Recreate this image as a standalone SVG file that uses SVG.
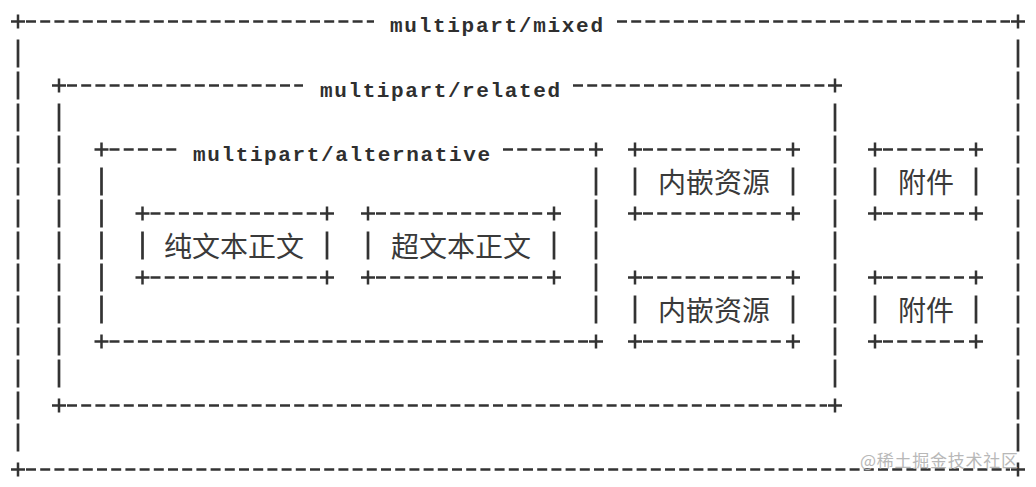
<svg xmlns="http://www.w3.org/2000/svg" xmlns:xlink="http://www.w3.org/1999/xlink" width="1036" height="487" viewBox="0 0 1036 487">
<style>
.h{stroke:#333;stroke-width:2.5;stroke-dasharray:10 4.2;fill:none}
.v{stroke:#333;stroke-width:2.7;stroke-dasharray:28 4;fill:none}
.p{stroke:#333;stroke-width:2.5;fill:none}
.mono{font-family:"Liberation Mono",monospace;font-size:21px;font-weight:bold;fill:#2f2f2f}
.cjk{font-family:"Noto Sans CJK SC",sans-serif;font-size:28px;fill:#3a3a3a;text-anchor:middle}
.wm{font-family:"Noto Sans CJK SC",sans-serif;font-size:17px;fill:#b8b8b8}
</style>
<defs>
<path id="plus" d="M-7 0H7M0 -7V7"/>
</defs>
<rect width="1036" height="487" fill="#fff"/>

<g id="mixed">
<path class="h" d="M26 21.5H374M617 21.5H1010M26 469.5H1010"/>
<path class="v" d="M18 39.5V451.5M1018 39.5V451.5"/>
<use xlink:href="#plus" class="p" x="18" y="21.5"/>
<use xlink:href="#plus" class="p" x="1018" y="21.5"/>
<use xlink:href="#plus" class="p" x="18" y="469.5"/>
<use xlink:href="#plus" class="p" x="1018" y="469.5"/>
<text class="mono" x="390" y="32" textLength="213" lengthAdjust="spacing">multipart/mixed</text>
</g>

<g id="related">
<path class="h" d="M67 85.5H303M573 85.5H827M67 405.5H827"/>
<path class="v" d="M59 103.5V387.5M835 103.5V387.5"/>
<use xlink:href="#plus" class="p" x="59" y="85.5"/>
<use xlink:href="#plus" class="p" x="835" y="85.5"/>
<use xlink:href="#plus" class="p" x="59" y="405.5"/>
<use xlink:href="#plus" class="p" x="835" y="405.5"/>
<text class="mono" x="320" y="96.5" textLength="240" lengthAdjust="spacing">multipart/related</text>
</g>

<g id="alternative">
<path class="h" d="M109.5 149.5H177M503 149.5H588M109.5 341.5H588"/>
<path class="v" d="M101.5 167.5V323.5M596 167.5V323.5"/>
<use xlink:href="#plus" class="p" x="101.5" y="149.5"/>
<use xlink:href="#plus" class="p" x="596" y="149.5"/>
<use xlink:href="#plus" class="p" x="101.5" y="341.5"/>
<use xlink:href="#plus" class="p" x="596" y="341.5"/>
<text class="mono" x="193" y="160.5" textLength="297" lengthAdjust="spacing">multipart/alternative</text>
</g>

<g id="plain-text">
<path class="h" d="M150.5 213.5H319M150.5 277.5H319"/>
<path class="v" d="M142.5 231.5V259.5M327 231.5V259.5"/>
<use xlink:href="#plus" class="p" x="142.5" y="213.5"/>
<use xlink:href="#plus" class="p" x="327" y="213.5"/>
<use xlink:href="#plus" class="p" x="142.5" y="277.5"/>
<use xlink:href="#plus" class="p" x="327" y="277.5"/>
<text class="cjk" x="234" y="256.5">纯文本正文</text>
</g>

<g id="html-text">
<path class="h" d="M376 213.5H546M376 277.5H546"/>
<path class="v" d="M368 231.5V259.5M554 231.5V259.5"/>
<use xlink:href="#plus" class="p" x="368" y="213.5"/>
<use xlink:href="#plus" class="p" x="554" y="213.5"/>
<use xlink:href="#plus" class="p" x="368" y="277.5"/>
<use xlink:href="#plus" class="p" x="554" y="277.5"/>
<text class="cjk" x="461" y="256.5">超文本正文</text>
</g>

<g id="inline-1">
<path class="h" d="M643 149.5H785M643 213.5H785"/>
<path class="v" d="M635 167.5V195.5M793 167.5V195.5"/>
<use xlink:href="#plus" class="p" x="635" y="149.5"/>
<use xlink:href="#plus" class="p" x="793" y="149.5"/>
<use xlink:href="#plus" class="p" x="635" y="213.5"/>
<use xlink:href="#plus" class="p" x="793" y="213.5"/>
<text class="cjk" x="714" y="192.5">内嵌资源</text>
</g>

<g id="inline-2">
<path class="h" d="M643 277.5H785M643 341.5H785"/>
<path class="v" d="M635 295.5V323.5M793 295.5V323.5"/>
<use xlink:href="#plus" class="p" x="635" y="277.5"/>
<use xlink:href="#plus" class="p" x="793" y="277.5"/>
<use xlink:href="#plus" class="p" x="635" y="341.5"/>
<use xlink:href="#plus" class="p" x="793" y="341.5"/>
<text class="cjk" x="714" y="320.5">内嵌资源</text>
</g>

<g id="attachment-1">
<path class="h" d="M883 149.5H968M883 213.5H968"/>
<path class="v" d="M875 167.5V195.5M976 167.5V195.5"/>
<use xlink:href="#plus" class="p" x="875" y="149.5"/>
<use xlink:href="#plus" class="p" x="976" y="149.5"/>
<use xlink:href="#plus" class="p" x="875" y="213.5"/>
<use xlink:href="#plus" class="p" x="976" y="213.5"/>
<text class="cjk" x="926" y="192.5">附件</text>
</g>

<g id="attachment-2">
<path class="h" d="M883 277.5H968M883 341.5H968"/>
<path class="v" d="M875 295.5V323.5M976 295.5V323.5"/>
<use xlink:href="#plus" class="p" x="875" y="277.5"/>
<use xlink:href="#plus" class="p" x="976" y="277.5"/>
<use xlink:href="#plus" class="p" x="875" y="341.5"/>
<use xlink:href="#plus" class="p" x="976" y="341.5"/>
<text class="cjk" x="926" y="320.5">附件</text>
</g>

<g id="connectors"></g>

<text class="wm" x="860" y="467" textLength="158" lengthAdjust="spacing">@稀土掘金技术社区</text>
</svg>
